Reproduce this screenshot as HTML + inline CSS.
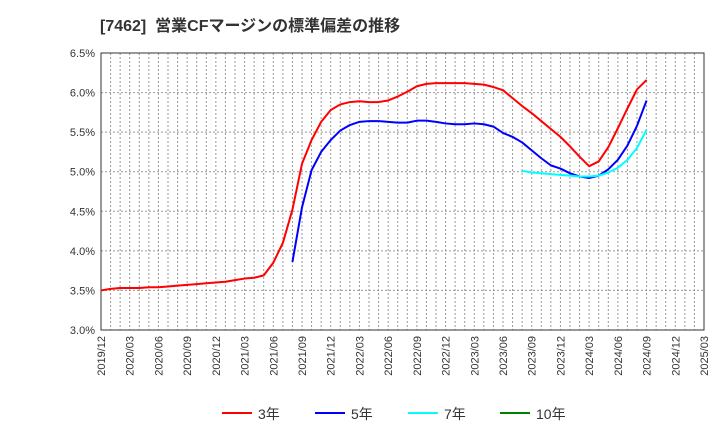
<!DOCTYPE html>
<html><head><meta charset="utf-8"><style>
body{margin:0;background:#fff;}
svg{font-family:"Liberation Sans","Noto Sans CJK JP",sans-serif;}
</style></head><body>
<svg id="c" width="720" height="440">
<text x="100" y="31" font-size="16" font-weight="bold" fill="#333">[7462]&#160;&#160;営業CFマージンの標準偏差の推移</text>
<g id="grid"></g><g id="axes"></g><g id="series"></g><g id="legend"></g>
</svg>
<script>
const xLabels=["2019/12","2020/03","2020/06","2020/09","2020/12","2021/03","2021/06","2021/09","2021/12","2022/03","2022/06","2022/09","2022/12","2023/03","2023/06","2023/09","2023/12","2024/03","2024/06","2024/09","2024/12","2025/03"];
const yTicks=[3.0,3.5,4.0,4.5,5.0,5.5,6.0,6.5];
const seriesNames=["3年","5年","7年","10年"];
const red=[3.50,3.52,3.53,3.53,3.53,3.54,3.54,3.55,3.56,3.57,3.58,3.59,3.60,3.61,3.63,3.65,3.66,3.69,3.85,4.10,4.52,5.10,5.40,5.63,5.78,5.85,5.88,5.89,5.88,5.88,5.90,5.95,6.01,6.08,6.11,6.12,6.12,6.12,6.12,6.11,6.10,6.07,6.03,5.93,5.83,5.74,5.64,5.54,5.44,5.32,5.19,5.07,5.13,5.31,5.55,5.80,6.04,6.16];
const blueStart=20;
const blue=[3.86,4.55,5.02,5.25,5.40,5.52,5.59,5.63,5.64,5.64,5.63,5.62,5.62,5.645,5.645,5.63,5.61,5.60,5.60,5.61,5.60,5.57,5.49,5.44,5.37,5.27,5.17,5.08,5.04,4.98,4.94,4.92,4.95,5.03,5.15,5.33,5.58,5.90];
const cyanStart=44;
const cyan=[5.01,4.99,4.98,4.97,4.96,4.95,4.94,4.94,4.95,4.99,5.05,5.15,5.30,5.53];
const green=[];
const colors=["#ff0000","#0000ff","#00ffff","#008000"];
const L=101,R=704,T=53,B=330,NM=63;
const X=m=>L+(R-L)*m/NM;
const Y=v=>B-(v-3)*(B-T)/3.5;
const ns="http://www.w3.org/2000/svg";
function mk(tag,attrs,parent){const e=document.createElementNS(ns,tag);for(const k in attrs)e.setAttribute(k,attrs[k]);parent.appendChild(e);return e;}
const grid=document.getElementById('grid'),axes=document.getElementById('axes'),ser=document.getElementById('series'),leg=document.getElementById('legend');
for(let m=1;m<NM;m++){const l=mk('line',{x1:X(m),x2:X(m),y1:T,y2:B,stroke:'#999','stroke-dasharray':'2,2','stroke-width':1},grid);

}
yTicks.forEach(v=>{if(v>3&&v<6.5){const l=mk('line',{x1:L,x2:R,y1:Y(v),y2:Y(v),stroke:'#999','stroke-dasharray':'2,2','stroke-width':1},grid);

}
const t=mk('text',{x:L-6,y:Y(v)+4,'text-anchor':'end','font-size':11,fill:'#333'},axes);t.textContent=v.toFixed(1)+'%';

});
const fr=mk('rect',{x:L,y:T,width:R-L,height:B-T,fill:'none',stroke:'#333','stroke-width':1},axes);


xLabels.forEach((s,i)=>{const x=X(i*3);const t=mk('text',{transform:`translate(${x+4},${B+6}) rotate(-90)`,'text-anchor':'end','font-size':11,fill:'#333'},axes);t.textContent=s;

});
function line(arr,start,color,name){if(!arr.length)return;const p=mk('polyline',{points:arr.map((v,i)=>X(start+i)+','+Y(v)).join(' '),fill:'none',stroke:color,'stroke-width':2,'stroke-linejoin':'round'},ser);

}
line(red,0,colors[0],'series-3y');
line(blue,blueStart,colors[1],'series-5y');
line(cyan,cyanStart,colors[2],'series-7y');
line(green,0,colors[3],'series-10y');
const lx=[222,315,408,500];
seriesNames.forEach((n,i)=>{const g=mk('g',{},leg);


mk('line',{x1:lx[i],x2:lx[i]+30,y1:413,y2:413,stroke:colors[i],'stroke-width':2},g);
const t=mk('text',{x:lx[i]+36,y:419,'font-size':14,fill:'#333'},g);t.textContent=n;});
</script>
</body></html>
